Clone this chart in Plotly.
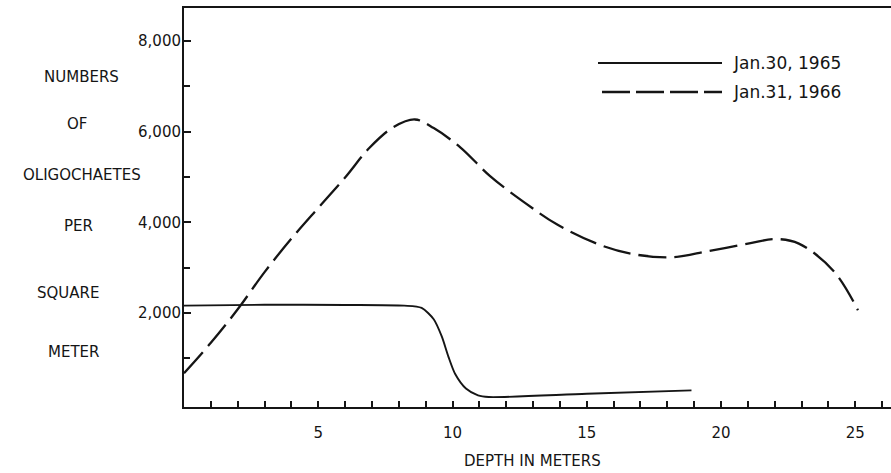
import plotly.graph_objects as go

# Oligochaete density profiles along the depth transect
depth_1965 = [0, 3, 6, 8.2, 8.85, 9.3, 9.6, 9.85, 10.1, 10.5, 10.95, 11.35, 15, 18.9]
count_1965 = [2160, 2180, 2175, 2160, 2110, 1860, 1480, 1030, 650, 330, 180, 143, 215, 291]

depth_1966 = [0, 1, 2, 3, 4, 5, 6, 6.9, 7.8, 8.6, 9.3, 10.3, 11.4, 12.7, 13.9,
              15.5, 16.8, 18.2, 19.5, 21.1, 22.0, 22.9, 24.2, 25.1]
count_1966 = [670, 1340, 2080, 2900, 3640, 4320, 4990, 5640, 6100, 6270, 6080, 5650,
              5020, 4430, 3950, 3500, 3290, 3230, 3360, 3540, 3630, 3530, 2920, 2060]

series_labels = ["Jan.30, 1965", "Jan.31, 1966"]
y_tick_vals = [2000, 4000, 6000, 8000]
y_tick_text = ["2,000", "4,000", "6,000", "8,000"]
y_minor_vals = [1000, 3000, 5000, 7000]
x_tick_vals = [5, 10, 15, 20, 25]
y_title_lines = ["NUMBERS", "OF", "OLIGOCHAETES", "PER", "SQUARE", "METER"]
x_title = "DEPTH IN METERS"

INK = "#151515"
FONT = "DejaVu Sans"

W, H = 891, 473
L, R, T, B = 184, 0, 8, 66
PW, PH = W - L - R, H - T - B


def px_x(p):
    return (p - L) / PW


def px_y(p):
    return (H - B - p) / PH


fig = go.Figure()
fig.add_trace(go.Scatter(
    x=depth_1965, y=count_1965, mode="lines", name=series_labels[0],
    line=dict(color=INK, width=1.9, shape="spline", smoothing=0.75),
    showlegend=False,
))
fig.add_trace(go.Scatter(
    x=depth_1966, y=count_1966, mode="lines", name=series_labels[1],
    line=dict(color=INK, width=2.3, shape="spline", smoothing=1.0, dash="28px,8px"),
    showlegend=False,
))

# hand-drawn style key
key_rows = [(63, "solid", 598), (92, "28px,6px", 602)]
for (ky, dash, kx0), label in zip(key_rows, series_labels):
    fig.add_shape(type="line", xref="paper", yref="paper",
                  x0=px_x(kx0), x1=px_x(722), y0=px_y(ky), y1=px_y(ky),
                  line=dict(color=INK, width=1.9 if dash == "solid" else 2.3, dash=dash))
    fig.add_annotation(xref="paper", yref="paper", x=px_x(731), y=px_y(ky),
                       text=label, showarrow=False, xanchor="left", yanchor="middle",
                       font=dict(family=FONT, size=17, color=INK))

# stacked y-axis caption
title_pos = [(81, 77), (77, 124), (82, 175), (78, 226), (68, 293), (73, 352)]
for (cx, cy), word in zip(title_pos, y_title_lines):
    fig.add_annotation(xref="paper", yref="paper", x=px_x(cx), y=px_y(cy),
                       text=word, showarrow=False, xanchor="center", yanchor="middle",
                       font=dict(family=FONT, size=15, color=INK))

fig.add_annotation(xref="paper", yref="paper", x=px_x(532), y=px_y(461),
                   text=x_title, showarrow=False, xanchor="center", yanchor="middle",
                   font=dict(family=FONT, size=15, color=INK))

fig.update_layout(
    width=W, height=H,
    margin=dict(l=L, r=R, t=T, b=B, pad=0),
    paper_bgcolor="white", plot_bgcolor="white",
    font=dict(family=FONT, color=INK),
    showlegend=False,
)
fig.update_xaxes(
    range=[0, PW / 26.85], showgrid=False, zeroline=False,
    showline=True, linecolor=INK, linewidth=2, mirror=True,
    tickmode="array", tickvals=x_tick_vals, ticktext=[str(v) for v in x_tick_vals],
    ticks="inside", ticklen=6, tickwidth=1.5, tickcolor=INK,
    minor=dict(tick0=0, dtick=1, ticks="inside", ticklen=6, tickwidth=1.5, tickcolor=INK),
    tickfont=dict(family=FONT, size=15, color=INK), ticklabelstandoff=11,
)
fig.update_yaxes(
    range=[-77, -77 + PH / 45.3 * 1000], showgrid=False, zeroline=False,
    showline=True, linecolor=INK, linewidth=2,
    tickmode="array", tickvals=y_tick_vals, ticktext=y_tick_text,
    ticks="inside", ticklen=7, tickwidth=1.5, tickcolor=INK,
    minor=dict(tickvals=y_minor_vals, ticks="inside", ticklen=6, tickwidth=1.5, tickcolor=INK),
    tickfont=dict(family=FONT, size=15, color=INK), ticklabelstandoff=-2,
)

fig.write_html("out.html")
